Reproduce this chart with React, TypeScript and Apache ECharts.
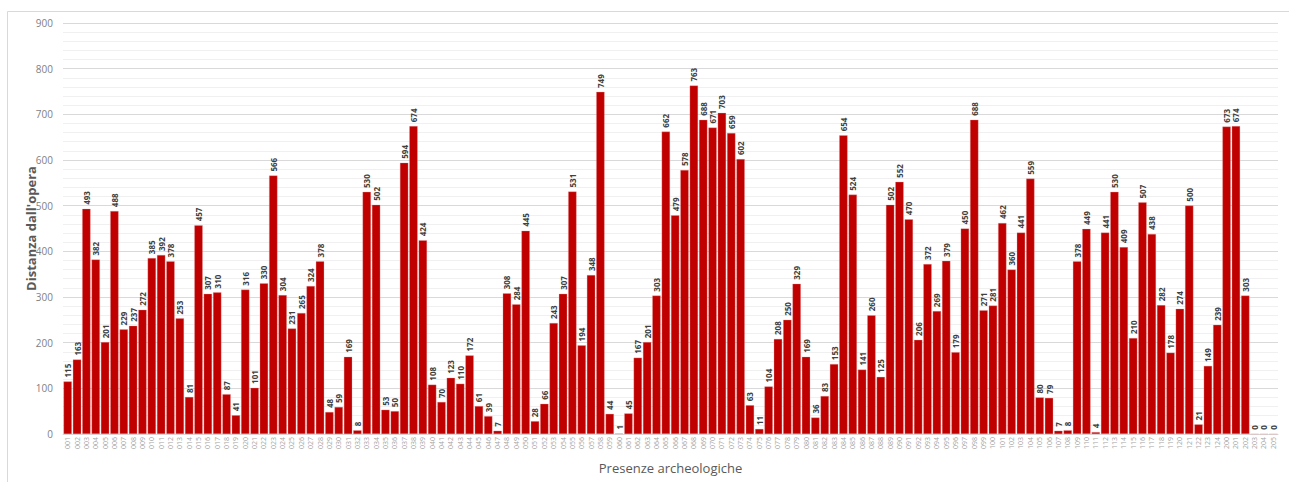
import React, { useEffect, useRef } from "react";
import * as echarts from "echarts";

const categories: string[] = [
  "001","002","003","004","005","006","007","008","009","010",
  "011","012","013","014","015","016","017","018","019","020",
  "021","022","023","024","025","026","027","028","029","030",
  "031","032","033","034","035","036","037","038","039","040",
  "041","042","043","044","045","046","047","048","049","050",
  "051","052","053","054","055","056","057","058","059","060",
  "061","062","063","064","065","066","067","068","069","070",
  "071","072","073","074","075","076","077","078","079","080",
  "081","082","083","084","085","086","087","088","089","090",
  "091","092","093","094","095","096","097","098","099","100",
  "101","102","103","104","105","106","107","108","109","110",
  "111","112","113","114","115","116","117","118","119","120",
  "121","122","123","124","200","201","202","203","204","205",
];

const distances: number[] = [
  115,163,493,382,201,488,229,237,272,385,
  392,378,253,81,457,307,310,87,41,316,
  101,330,566,304,231,265,324,378,48,59,
  169,8,530,502,53,50,594,674,424,108,
  70,123,110,172,61,39,7,308,284,445,
  28,66,243,307,531,194,348,749,44,1,
  45,167,201,303,662,479,578,763,688,671,
  703,659,602,63,11,104,208,250,329,169,
  36,83,153,654,524,141,260,125,502,552,
  470,206,372,269,379,179,450,688,271,281,
  462,360,441,559,80,79,7,8,378,449,
  4,441,530,409,210,507,438,282,178,274,
  500,21,149,239,673,674,303,0,0,0,
];

const yTicks = { min: 0, max: 900, interval: 100 };
const xAxisTitle = "Presenze archeologiche";
const yAxisTitle = "Distanza dall'opera";

export default function App() {
  const ref = useRef<HTMLDivElement>(null);
  useEffect(() => {
    if (!ref.current) return;
    const chart = echarts.init(ref.current, undefined, { renderer: "svg" });
    chart.setOption({
      animation: false,
      backgroundColor: "#ffffff",
      graphic: [
        {
          type: "rect",
          shape: { x: 7.5, y: 11.5, width: 1300, height: 500 },
          style: { fill: "none", stroke: "#d9d9d9", lineWidth: 1 },
          silent: true,
        },
      ],
      grid: { left: 63, right: 11, top: 23, bottom: 48, containLabel: false },
      xAxis: {
        type: "category",
        data: categories,
        name: xAxisTitle,
        nameLocation: "middle",
        nameGap: 27,
        nameMoveOverlap: false,
        nameTextStyle: { fontSize: 13, color: "#595959", fontFamily: "Open Sans" },
        axisLine: { lineStyle: { color: "#d9d9d9" } },
        axisTick: { show: false },
        axisLabel: {
          interval: 0,
          rotate: 90,
          fontSize: 7,
          color: "#a6a6a6",
          margin: 3,
          fontFamily: "Open Sans",
        },
      },
      yAxis: {
        type: "value",
        min: yTicks.min,
        max: yTicks.max,
        interval: yTicks.interval,
        name: yAxisTitle,
        nameLocation: "middle",
        nameGap: 26,
        nameMoveOverlap: false,
        nameTextStyle: { fontSize: 13, color: "#595959", fontWeight: "bold", fontFamily: "Open Sans" },
        axisLine: { show: false },
        axisTick: { show: false },
        axisLabel: { fontSize: 10, color: "#7f7f7f", margin: 10, fontFamily: "Open Sans" },
        splitLine: { show: true, lineStyle: { color: "#d9d9d9", width: 1 } },
        minorTick: { show: false, splitNumber: 5 },
        minorSplitLine: { show: true, lineStyle: { color: "#f0f0f0", width: 1 } },
      },
      series: [
        {
          type: "bar",
          data: distances,
          barCategoryGap: "12%",
          itemStyle: { color: "#c00000", borderColor: "#e8a0a0", borderWidth: 0.3 },
          label: {
            show: true,
            position: "top",
            rotate: 90,
            align: "left",
            verticalAlign: "middle",
            distance: 4,
            fontSize: 8,
            fontWeight: "bold",
            color: "#404040",
            fontFamily: "Open Sans",
          },
        },
      ],
    });
    return () => chart.dispose();
  }, []);
  return (
    <div
      ref={ref}
      style={{ position: "fixed", left: 0, top: 0, width: 1289, height: 482 }}
    />
  );
}
